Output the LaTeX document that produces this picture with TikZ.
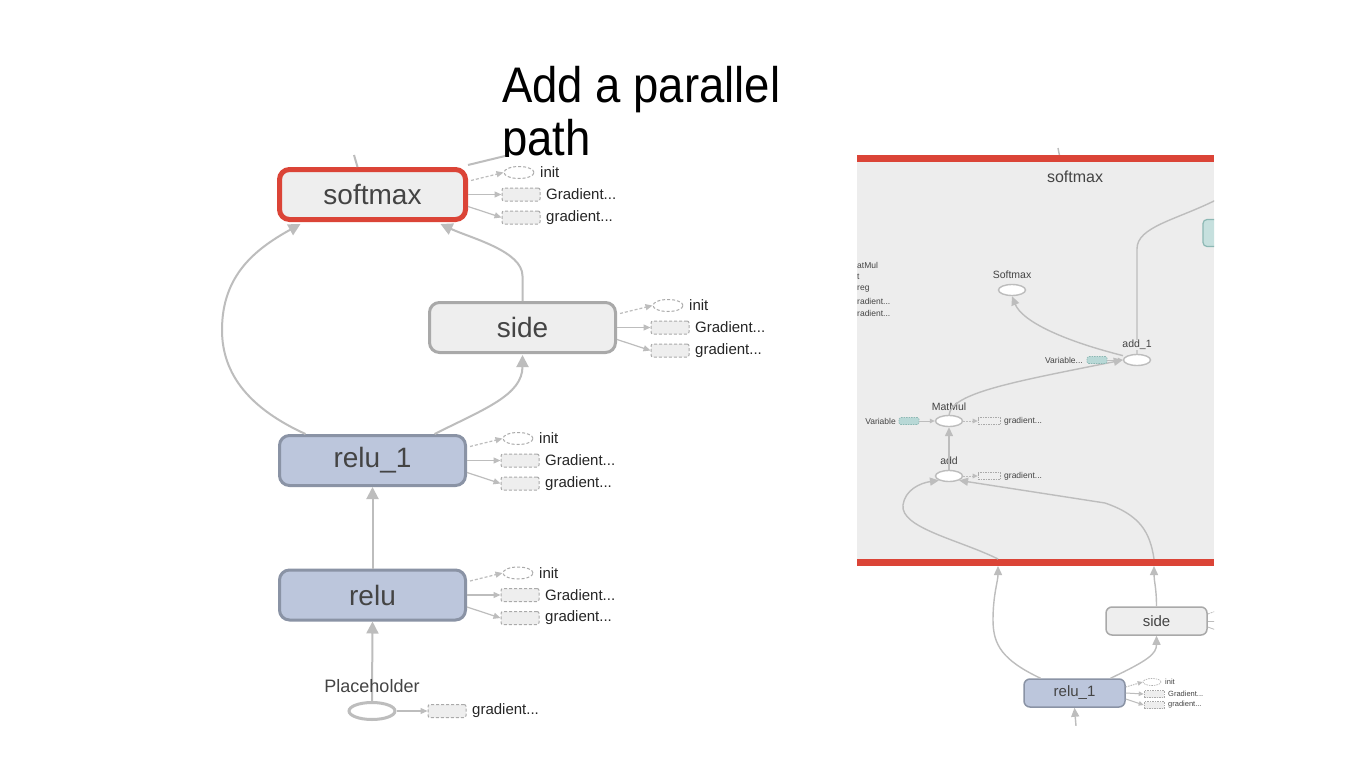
\documentclass[tikz,border=0pt]{standalone}
\usepackage{fontspec}
\usepackage{graphicx}
\setmainfont{Liberation Sans}
\usetikzlibrary{arrows.meta,calc,shapes.geometric}
\definecolor{edgec}{HTML}{BDBDBD}
\definecolor{redb}{HTML}{DB4437}
\definecolor{boxf}{HTML}{EEEEEE}
\definecolor{boxd}{HTML}{A9A9A9}
\definecolor{bluef}{HTML}{BCC6DC}
\definecolor{blued}{HTML}{8A93A5}
\definecolor{txt}{HTML}{444444}
\definecolor{tealf}{HTML}{B8D8D6}
\definecolor{teald}{HTML}{8CB8B4}
\definecolor{dashd}{HTML}{AAAAAA}
\definecolor{panelf}{HTML}{EDEDED}

\newcommand\attachL[1]{%
  \node[initell] (#1-i) at ($(#1.east)+(51,-22)$) {};
  \node[gradrect] (#1-G) at ($(#1.east)+(53,0)$) {};
  \node[gradrect] (#1-g) at ($(#1.east)+(53,23)$) {};
  \node[attlbl] (#1-il) at ($(#1-i.center)+(21,0)$) {init};
  \node[attlbl] (#1-Gl) at ($(#1-G.center)+(25,0)$) {Gradient...};
  \node[attlbl] (#1-gl) at ($(#1-g.center)+(25,0)$) {gradient...};
  \draw[attdash] ($(#1.east)+(3,-14)$) -- (#1-i.west);
  \draw[attarr] (#1.east) -- (#1-G.west);
  \draw[attarr] ($(#1.east)+(0,12)$) -- (#1-g.west);
}

\begin{document}
\begin{tikzpicture}[x=1pt,y=-1pt,
  edge/.style={draw=edgec, line width=2pt, -{Triangle[length=12pt,width=12pt]}},
  opbox/.style={rectangle, rounded corners=10pt, minimum width=186pt, minimum height=50pt, inner sep=0pt, font=\fontsize{28}{28}\selectfont, text=txt},
  softbox/.style={opbox, fill=boxf, draw=redb, line width=5pt},
  graybox/.style={opbox, fill=boxf, draw=boxd, line width=3pt},
  bluebox/.style={opbox, fill=bluef, draw=blued, line width=3pt},
  initell/.style={ellipse, draw=dashd, dash pattern=on 3pt off 2pt, line width=1pt, minimum width=30pt, minimum height=12pt, inner sep=0pt},
  gradrect/.style={rectangle, rounded corners=2pt, draw=dashd, fill=boxf, dash pattern=on 3pt off 2pt, line width=1pt, minimum width=38pt, minimum height=13pt, inner sep=0pt},
  attlbl/.style={font=\fontsize{15}{15}\selectfont, text=black!85, anchor=west, inner sep=0pt},
  attarr/.style={draw=edgec, line width=1.2pt, -{Triangle[length=7pt,width=6pt]}},
  attdash/.style={attarr, dash pattern=on 3pt off 2pt},
  rop/.style={ellipse, draw=edgec, fill=white, line width=1.4pt, minimum width=27pt, minimum height=11pt, inner sep=0pt},
  ropl/.style={font=\fontsize{10.5}{10.5}\selectfont, text=txt, inner sep=0pt},
  rsmall/.style={font=\fontsize{8.5}{8.5}\selectfont, text=txt, inner sep=0pt},
  tealrect/.style={rectangle, rounded corners=1.5pt, draw=teald, fill=tealf, dash pattern=on 1.5pt off 1pt, minimum width=20pt, minimum height=7pt, inner sep=0pt, line width=0.6pt},
  rgrad/.style={rectangle, draw=dashd, fill=boxf, dash pattern=on 1.5pt off 1pt, minimum width=22pt, minimum height=7pt, inner sep=0pt, line width=0.6pt},
  rarr/.style={draw=edgec, line width=1pt, -{Triangle[length=5pt,width=4.5pt]}},
  redge/.style={draw=edgec, line width=1.4pt, -{Triangle[length=9pt,width=8pt]}},
  rbox/.style={rectangle, rounded corners=6pt, minimum width=101pt, minimum height=28pt, inner sep=0pt, line width=1.5pt, font=\fontsize{15}{15}\selectfont, text=txt}
]
\useasboundingbox (0,0) rectangle (1365,768);
\fill[white] (0,0) rectangle (1365,768);

% title
\node[anchor=base west, inner sep=0pt, font=\fontsize{50}{50}\selectfont] (t1) at (502,102) {\scalebox{0.91}[1]{Add a parallel}};
\node[anchor=base west, inner sep=0pt, font=\fontsize{50}{50}\selectfont] (t2) at (502,155) {\scalebox{0.91}[1]{path}};
\fill[white] (215,157) rectangle (775,735);

% ---------- left graph ----------
\node[softbox] (softmax) at (372.5,194.5) {softmax};
\node[graybox] (side) at (522.5,327.5) {side};
\node[bluebox] (relu1) at (372.5,460.5) {relu\_1};
\node[bluebox] (relu) at (372.5,595) {relu};
\node[ellipse, draw=edgec, line width=3pt, minimum width=46pt, minimum height=17pt, inner sep=0pt] (ph) at (372,711) {};

\coordinate (lbend) at (222,330);
\coordinate (out1) at (354,155);
\coordinate (out2) at (505,156);
\draw[draw=edgec, line width=2pt] ([xshift=-15pt]softmax.north) -- (out1);
\draw[draw=edgec, line width=2pt] ([yshift=2pt]softmax.north east) -- (out2);

\draw[edge] (ph.north) -- (relu.south);
\draw[edge] (relu.north) -- (relu1.south);
\draw[edge] ([xshift=-67pt]relu1.north) .. controls +(-55,-25) and +(0,45) .. (lbend)
  .. controls +(0,-55) and +(-45,25) .. ([xshift=-72pt,yshift=-2pt]softmax.south);
\draw[edge] ([xshift=62pt]relu1.north) .. controls +(50,-25) and +(0,40) .. ([yshift=-1pt]side.south);
\draw[edge] (side.north) -- ++(0,-25) .. controls +(0,-25) and +(30,14) .. ([xshift=68pt,yshift=-2pt]softmax.south);

\node[font=\fontsize{18}{18}\selectfont, text=txt, inner sep=0pt] (phl) at (372,686) {Placeholder};
\node[gradrect] (ph-g) at (447,711) {};
\node[attlbl] (ph-gl) at (472,711) {gradient...};
\draw[attarr] (ph.east) -- (ph-g.west);

\attachL{softmax}
\attachL{side}
\attachL{relu1}
\attachL{relu}

% ---------- right panel ----------
\coordinate (rtop) at (1058,148);
\draw[draw=edgec, line width=1.4pt] (rtop) -- (1060,158);
\fill[panelf] (857,158) rectangle (1214,562);
\fill[redb] (857,155) rectangle (1214,161.5);
\fill[redb] (857,559) rectangle (1214,566);
\node[font=\fontsize{16}{16}\selectfont, text=txt, inner sep=0pt] (rtitle) at (1075,177) {softmax};

\begin{scope}
\clip (857,140) rectangle (1214,725);
\node[rectangle, rounded corners=4pt, draw=teald, fill=tealf!80!white, line width=1.2pt, minimum width=24pt, minimum height=27pt] (tealn) at (1215,233) {};

\node[rop] (rsoft) at (1012,290) {};
\node[ropl] (rsoftl) at (1012,275) {Softmax};
\node[rop] (add1) at (1137,360) {};
\node[rop] (matmul) at (949,421) {};
\node[rop] (add) at (949,476) {};

\coordinate (rexit) at (1216,200);
\draw[draw=edgec, line width=1.4pt] (add1.north) -- ++(0,-105) .. controls +(0,-22) and +(-40,20) .. (rexit);
\node[ropl, fill=panelf, inner xsep=1pt] (add1l) at (1137,345) {add\_1};
\node[ropl] (matmull) at (949,407) {MatMul};
\node[ropl] (addl) at (949,461) {add};

\draw[redge] ([xshift=-4pt]add1.north west) .. controls +(-60,-15) and +(10,25) .. (rsoft.south);
\draw[redge] (matmul.north) .. controls +(3,-22) and +(-110,22) .. (add1.west);
\draw[redge] (add.north) -- (matmul.south);

\node[tealrect] (var1) at (1097,360) {};
\node[rsmall, anchor=east] (var1l) at (1083,360) {Variable...};
\draw[rarr] (var1.east) -- (add1.west);
\node[tealrect] (var2) at (909,421) {};
\node[rsmall, anchor=east] (var2l) at (896,421) {Variable};
\draw[rarr] (var2.east) -- (matmul.west);
\node[rgrad] (mg) at (989,421) {};
\node[rsmall, anchor=west] (mgl) at (1004,421) {gradient...};
\draw[rarr, dash pattern=on 2pt off 1pt] (matmul.east) -- (mg.west);
\node[rgrad] (ag) at (989,476) {};
\node[rsmall, anchor=west] (agl) at (1004,476) {gradient...};
\draw[rarr, dash pattern=on 2pt off 1pt] (add.east) -- (ag.west);

\node[rsmall, anchor=west] (p1) at (857,265) {atMul};
\node[rsmall, anchor=west] (p2) at (857,277) {t};
\node[rsmall, anchor=west] (p3) at (857,289) {reg};
\node[rsmall, anchor=west] (p4) at (857,301) {radient...};
\node[rsmall, anchor=west] (p5) at (857,313) {radient...};

\coordinate (bl) at (998,559);
\coordinate (br) at (1154,559);
\draw[redge] (bl) .. controls (960,540) and (900,528) .. (903,505) .. controls (905,490) and (920,483) .. (add.south west);
\draw[redge] (br) .. controls (1150,532) and (1140,515) .. (1105,503) -- (add.south east);

% below the bar
\node[rbox, fill=boxf, draw=boxd] (rside) at (1156.5,621) {side};
\node[rbox, fill=bluef, draw=blued] (rrelu) at (1074.5,693) {relu\_1};
\coordinate (bl2) at (998,566);
\coordinate (br2) at (1154,566);
\draw[redge] ([xshift=-34pt]rrelu.north) .. controls +(-38,-18) and +(0,25) .. (993,620) .. controls +(0,-25) and +(0,15) .. (bl2);
\draw[redge] ([xshift=36pt]rrelu.north) .. controls +(38,-18) and +(0,18) .. (rside.south);
\draw[redge] (rside.north) .. controls +(0,-18) and +(0,15) .. (br2);
\coordinate (rin) at (1076,726);
\draw[redge] (rin) -- (rrelu.south);

\draw[draw=edgec, line width=0.8pt, dash pattern=on 2pt off 1pt] ([yshift=7pt]rside.east) -- (1216,611);
\draw[draw=edgec, line width=0.8pt] (rside.east) -- (1216,621);
\draw[draw=edgec, line width=0.8pt] ([yshift=-6pt]rside.east) -- (1216,630);

\node[ellipse, draw=dashd, dash pattern=on 1.5pt off 1pt, line width=0.6pt, minimum width=18pt, minimum height=7pt, inner sep=0pt] (rr-i) at (1152,682) {};
\node[rgrad, minimum width=20pt] (rr-G) at (1154,694) {};
\node[rgrad, minimum width=20pt] (rr-g) at (1154,705) {};
\node[font=\fontsize{7.5}{7.5}\selectfont, text=txt, inner sep=0pt, anchor=west] (rr-il) at (1165,682) {init};
\node[font=\fontsize{7.5}{7.5}\selectfont, text=txt, inner sep=0pt, anchor=west] (rr-Gl) at (1168,694) {Gradient...};
\node[font=\fontsize{7.5}{7.5}\selectfont, text=txt, inner sep=0pt, anchor=west] (rr-gl) at (1168,705) {gradient...};
\draw[rarr, dash pattern=on 1.5pt off 1pt] ([yshift=6pt]rrelu.east) -- (rr-i.west);
\draw[rarr] (rrelu.east) -- (rr-G.west);
\draw[rarr] ([yshift=-6pt]rrelu.east) -- (rr-g.west);
\end{scope}
\end{tikzpicture}
\end{document}
